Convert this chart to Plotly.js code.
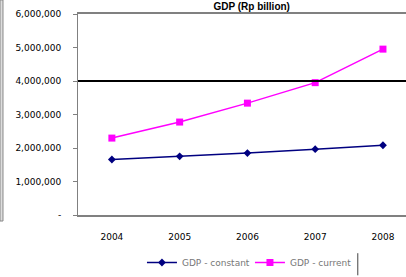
<!DOCTYPE html>
<html>
<head>
<meta charset="utf-8">
<script src="https://cdn.plot.ly/plotly-3.0.1.min.js"></script>
<style>html,body{margin:0;padding:0;overflow:hidden;background:#fff;}</style>
</head>
<body>
<div id="chart" style="width:406px;height:277px;"></div>
<script>
const years = ["2004", "2005", "2006", "2007", "2008"];
const gdpConstant = [1656517, 1750815, 1847127, 1964327, 2082104];
const gdpCurrent = [2295826, 2774281, 3339217, 3950893, 4951357];
const yTickVals = [0, 1000000, 2000000, 3000000, 4000000, 5000000, 6000000];
const yTickText = ["-", "1,000,000", "2,000,000", "3,000,000", "4,000,000", "5,000,000", "6,000,000"];
const seriesNames = ["GDP - constant", "GDP - current"];
const refLine = 4000000;

const traces = [
  {x: years, y: gdpConstant, name: seriesNames[0], type: 'scatter', mode: 'lines+markers',
   line: {color: '#000080', width: 1.5}, marker: {color: '#000080', symbol: 'diamond', size: 6}},
  {x: years, y: gdpCurrent, name: seriesNames[1], type: 'scatter', mode: 'lines+markers',
   line: {color: '#FF00FF', width: 1.5}, marker: {color: '#FF00FF', symbol: 'square', size: 7}}
];

const layout = {
  width: 406, height: 277,
  margin: {l: 78, r: 0, t: 14, b: 58},
  paper_bgcolor: '#fff', plot_bgcolor: '#fff',
  font: {family: 'DejaVu Sans', size: 9, color: '#000'},
  title: {text: '<b>GDP (Rp billion)</b>', font: {family: 'Liberation Sans', size: 10, color: '#000'},
          x: 0.62, xref: 'container', xanchor: 'center', y: 0.977, yref: 'container', yanchor: 'middle'},
  xaxis: {type: 'category', range: [-0.5, 4.34], showgrid: false, zeroline: false,
          showline: true, linecolor: '#808080', linewidth: 2, mirror: true,
          ticks: '', ticklabelstandoff: 12, tickfont: {family: 'DejaVu Sans', size: 9, color: '#000'}},
  yaxis: {range: [0, 6000000], tickvals: yTickVals, ticktext: yTickText, showgrid: false, zeroline: false,
          showline: true, linecolor: '#808080', linewidth: 1, ticks: 'outside', ticklen: 4, tickcolor: '#808080',
          ticklabelstandoff: 10, tickfont: {family: 'DejaVu Sans', size: 9, color: '#000'}},
  showlegend: true,
  legend: {orientation: 'h', x: 0.195, xanchor: 'left', y: -0.239, yanchor: 'middle',
           entrywidth: 63, entrywidthmode: 'pixels',
           font: {family: 'DejaVu Sans', size: 9, color: '#777'}, bgcolor: 'rgba(0,0,0,0)'},
  shapes: [
    {type: 'line', xref: 'paper', yref: 'y', x0: 0, x1: 1, y0: refLine, y1: refLine, line: {color: '#000', width: 2}},
    {type: 'line', xref: 'paper', yref: 'paper', x0: 0.853, x1: 0.853, y0: -0.19, y1: -0.3, line: {color: '#444', width: 1}},
    {type: 'rect', xref: 'paper', yref: 'paper', x0: -0.2378, x1: -0.2287, y0: -0.03, y1: 1.07, fillcolor: '#ddd', line: {color: '#888', width: 1}}
  ]
};

Plotly.newPlot('chart', traces, layout, {displayModeBar: false, staticPlot: true});
</script>
</body>
</html>
